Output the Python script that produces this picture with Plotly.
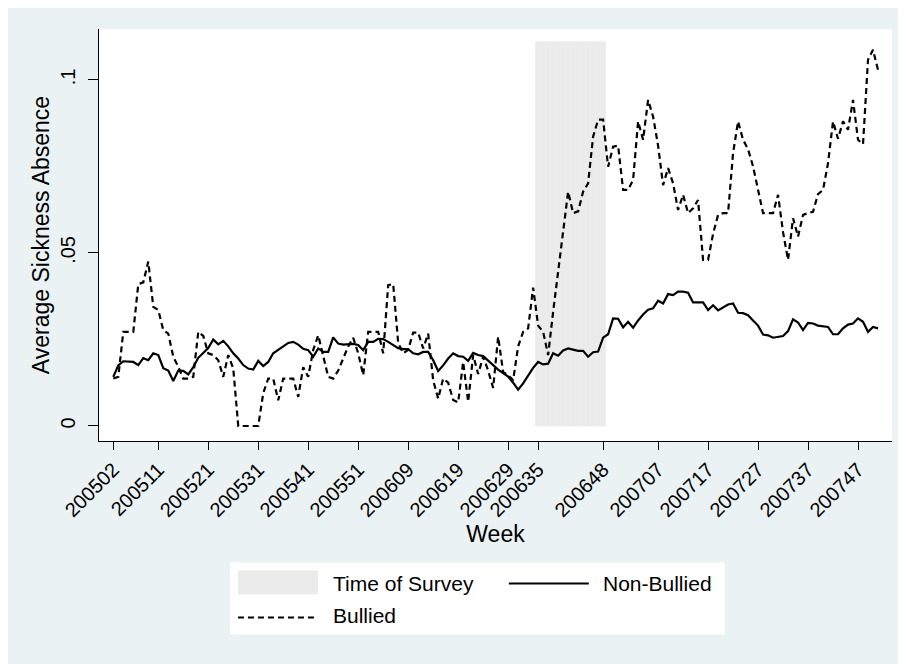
import plotly.graph_objects as go

# ---- data -------------------------------------------------------------
weeks = ([f"2005{w:02d}" for w in range(2, 53)] +
         [f"2006{w:02d}" for w in range(1, 53)] +
         [f"2007{w:02d}" for w in range(1, 52)])

non_bullied = [
    0.0142, 0.0175, 0.0187, 0.0185, 0.0185, 0.0176, 0.0196, 0.0190, 0.0210, 0.0205,
    0.0167, 0.0160, 0.0130, 0.0160, 0.0159, 0.0149, 0.0170, 0.0197, 0.0212, 0.0225,
    0.0250, 0.0236, 0.0246, 0.0230, 0.0210, 0.0195, 0.0176, 0.0166, 0.0163, 0.0188,
    0.0173, 0.0185, 0.0210, 0.0220, 0.0230, 0.0240, 0.0243, 0.0235, 0.0223, 0.0219,
    0.0200, 0.0224, 0.0214, 0.0214, 0.0256, 0.0238, 0.0235, 0.0235, 0.0237, 0.0234,
    0.0219, 0.0243, 0.0243, 0.0252, 0.0251, 0.0243, 0.0234, 0.0225, 0.0222, 0.0222,
    0.0210, 0.0207, 0.0214, 0.0214, 0.0190, 0.0159, 0.0175, 0.0195, 0.0210, 0.0202,
    0.0200, 0.0188, 0.0211, 0.0205, 0.0202, 0.0190, 0.0176, 0.0163, 0.0152, 0.0143,
    0.0125, 0.0105, 0.0123, 0.0147, 0.0168, 0.0185, 0.0178, 0.0180, 0.0210, 0.0203,
    0.0218, 0.0224, 0.0220, 0.0217, 0.0217, 0.0200, 0.0213, 0.0215, 0.0255, 0.0265,
    0.0311, 0.0310, 0.0285, 0.0301, 0.0284, 0.0305, 0.0322, 0.0336, 0.0340, 0.0362,
    0.0354, 0.0381, 0.0378, 0.0388, 0.0388, 0.0385, 0.0357, 0.0357, 0.0357, 0.0335,
    0.0349, 0.0334, 0.0342, 0.0351, 0.0354, 0.0327, 0.0326, 0.0320, 0.0305, 0.0290,
    0.0264, 0.0262, 0.0255, 0.0257, 0.0260, 0.0274, 0.0308, 0.0299, 0.0277, 0.0298,
    0.0296, 0.0290, 0.0289, 0.0286, 0.0265, 0.0265, 0.0282, 0.0293, 0.0296, 0.0311,
    0.0301, 0.0272, 0.0286, 0.0282,
]

bullied = [
    0.0137, 0.0142, 0.0272, 0.0272, 0.0272, 0.0410, 0.0415, 0.0475, 0.0344, 0.0335,
    0.0277, 0.0267, 0.0200, 0.0171, 0.0137, 0.0137, 0.0142, 0.0272, 0.0260, 0.0210,
    0.0205, 0.0190, 0.0142, 0.0205, 0.0166, 0.0000, 0.0000, 0.0000, 0.0000, 0.0000,
    0.0095, 0.0137, 0.0137, 0.0074, 0.0137, 0.0137, 0.0137, 0.0084, 0.0170, 0.0142,
    0.0220, 0.0262, 0.0200, 0.0142, 0.0137, 0.0160, 0.0195, 0.0230, 0.0255, 0.0210,
    0.0147, 0.0272, 0.0272, 0.0272, 0.0210, 0.0407, 0.0410, 0.0240, 0.0210, 0.0220,
    0.0270, 0.0270, 0.0224, 0.0267, 0.0132, 0.0079, 0.0137, 0.0125, 0.0075, 0.0068,
    0.0185, 0.0070, 0.0205, 0.0150, 0.0200, 0.0160, 0.0110, 0.0258, 0.0156, 0.0147,
    0.0132, 0.0230, 0.0272, 0.0282, 0.0400, 0.0290, 0.0272, 0.0205, 0.0330, 0.0441,
    0.0566, 0.0677, 0.0615, 0.0620, 0.0677, 0.0701, 0.0836, 0.0885, 0.0885, 0.0749,
    0.0807, 0.0810, 0.0682, 0.0682, 0.0711, 0.0880, 0.0827, 0.0942, 0.0894, 0.0810,
    0.0696, 0.0745, 0.0701, 0.0624, 0.0668, 0.0615, 0.0629, 0.0653, 0.0480, 0.0480,
    0.0555, 0.0610, 0.0615, 0.0615, 0.0788, 0.0880, 0.0827, 0.0800, 0.0750, 0.0682,
    0.0615, 0.0615, 0.0615, 0.0668, 0.0560, 0.0480, 0.0600, 0.0547, 0.0610, 0.0615,
    0.0619, 0.0670, 0.0682, 0.0759, 0.0880, 0.0830, 0.0880, 0.0856, 0.0942, 0.0827,
    0.0814, 0.1058, 0.1087, 0.1029,
]

survey_weeks = [f"2006{w:02d}" for w in range(35, 49)]
survey_level = [0.111] * len(survey_weeks)

tick_weeks = ["200502", "200511", "200521", "200531", "200541", "200551",
              "200609", "200619", "200629", "200635", "200648", "200707",
              "200717", "200727", "200737", "200747"]
y_ticks = [0, 0.05, 0.1]
y_tick_text = ["0", ".05", ".1"]

# ---- styling ----------------------------------------------------------
# page body has an 8px margin, so the figure is drawn 8px in from the window edge
OFF = 8
W, H = 906 - OFF, 664 - OFF
L, R, T, B = 99, 892.3, 29.3, 440.7          # plot area in window pixels
BG = "#EAF2F3"
SHADE = "#EBEBEB"
FONT = "Liberation Sans, Arial, sans-serif"


def px(x):
    return (x - L) / (R - L)


def py(y):
    return (B - y) / (B - T)


fig = go.Figure()
fig.add_trace(go.Bar(x=survey_weeks, y=survey_level, width=1,
                     marker=dict(color=SHADE, line=dict(width=0.8, color=SHADE)),
                     name="Time of Survey", showlegend=False, hoverinfo="skip"))
fig.add_trace(go.Scatter(x=weeks, y=non_bullied, mode="lines",
                         line=dict(color="black", width=2.2),
                         name="Non-Bullied", showlegend=False))
fig.add_trace(go.Scatter(x=weeks, y=bullied, mode="lines",
                         line=dict(color="black", width=2.2, dash="6px,4px"),
                         name="Bullied", showlegend=False))

shapes = [
    dict(type="rect", xref="paper", yref="paper",
         x0=px(230), x1=px(725), y0=py(562), y1=py(634),
         fillcolor="white", line=dict(width=0)),
    dict(type="rect", xref="paper", yref="paper",
         x0=px(238), x1=px(318), y0=py(570), y1=py(594),
         fillcolor=SHADE, line=dict(width=0)),
    dict(type="line", xref="paper", yref="paper",
         x0=px(509), x1=px(589), y0=py(583), y1=py(583),
         line=dict(color="black", width=2)),
    dict(type="line", xref="paper", yref="paper",
         x0=px(238), x1=px(318), y0=py(617), y1=py(617),
         line=dict(color="black", width=2, dash="6px,4px")),
]

leg_font = dict(family=FONT, size=21, color="black")
annotations = [
    dict(text="Time of Survey", xref="paper", yref="paper", x=px(331), y=py(583),
         xanchor="left", yanchor="middle", showarrow=False, font=leg_font),
    dict(text="Non-Bullied", xref="paper", yref="paper", x=px(601), y=py(583),
         xanchor="left", yanchor="middle", showarrow=False, font=leg_font),
    dict(text="Bullied", xref="paper", yref="paper", x=px(331), y=py(615),
         xanchor="left", yanchor="middle", showarrow=False, font=leg_font),
]

fig.update_layout(
    width=W, height=H,
    margin=dict(l=L - OFF, r=W - (R - OFF), t=T - OFF, b=H - (B - OFF), pad=0),
    paper_bgcolor=BG, plot_bgcolor="white",
    font=dict(family=FONT, color="black"),
    showlegend=False,
    shapes=shapes, annotations=annotations,
    xaxis=dict(type="category", categoryorder="array", categoryarray=weeks,
               range=[-2.86, 155.8],
               tickmode="array", tickvals=tick_weeks, ticktext=tick_weeks,
               tickangle=-45, tickfont=dict(size=20),
               ticks="outside", ticklen=8, tickwidth=1.2, tickcolor="black",
               showline=True, linecolor="black", linewidth=1.2,
               showgrid=False, zeroline=False,
               title=dict(text="Week", font=dict(size=23), standoff=2),
               automargin=False),
    yaxis=dict(range=[-0.00434, 0.1147],
               tickmode="array", tickvals=y_ticks, ticktext=y_tick_text,
               tickangle=-90, tickfont=dict(size=20), ticklabelstandoff=5,
               ticks="outside", ticklen=10, tickwidth=1.2, tickcolor="black",
               showline=True, linecolor="black", linewidth=1.2,
               showgrid=False, zeroline=False,
               title=dict(text="Average Sickness Absence", font=dict(size=23), standoff=0),
               automargin=False),
)

fig.write_html("out.html")
